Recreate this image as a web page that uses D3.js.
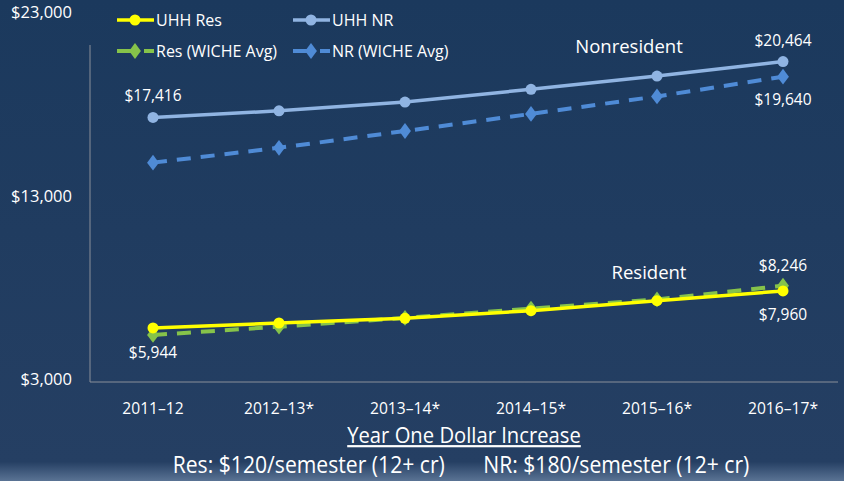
<!DOCTYPE html>
<html>
<head>
<meta charset="utf-8">
<script src="https://cdn.jsdelivr.net/npm/d3@7"></script>
<style>
  html, body { margin: 0; padding: 0; background: #1d3a5e; }
  svg { display: block; }
  text { font-family: "Open Sans", "Noto Sans", sans-serif; fill: #ffffff; }
</style>
</head>
<body>
<div id="chart"></div>
<script>
// categories and series
var years = ['2011\u201312', '2012\u201313*', '2013\u201314*', '2014\u201315*', '2015\u201316*', '2016\u201317*'];
var uhhRes   = [5944, 6216, 6473, 6887, 7432, 7960];
var uhhNR    = [17416, 17776, 18256, 18952, 19672, 20464];
var wicheRes = [5563, 6015, 6490, 7000, 7500, 8246];
var wicheNR  = [14955, 15763, 16678, 17610, 18563, 19640];
var yTicks = [3000, 13000, 23000];

var width = 844, height = 481;

var svg = d3.select('#chart').append('svg')
  .attr('width', width)
  .attr('height', height);

// background gradient
var defs = svg.append('defs');
var grad = defs.append('linearGradient')
  .attr('id', 'bg').attr('x1', 0).attr('y1', 0).attr('x2', 0).attr('y2', 1);
grad.append('stop').attr('offset', '0%').attr('stop-color', '#1b395d');
grad.append('stop').attr('offset', '96%').attr('stop-color', '#253f63');
grad.append('stop').attr('offset', '100%').attr('stop-color', '#5a7394');
svg.append('rect').attr('width', width).attr('height', height).attr('fill', 'url(#bg)');

var xScale = d3.scalePoint()
  .domain(years)
  .range([90, 846])
  .padding(0.5);

var yScale = d3.scaleLinear()
  .domain([3000, 23000])
  .range([382, 15]);

// axes lines
svg.append('line')
  .attr('x1', 90).attr('x2', 90)
  .attr('y1', yScale(23000) + 30).attr('y2', yScale(3000))
  .attr('stroke', '#8a8f99').attr('stroke-width', 1);
svg.append('line')
  .attr('x1', 90).attr('x2', 838)
  .attr('y1', yScale(3000)).attr('y2', yScale(3000))
  .attr('stroke', '#8a8f99').attr('stroke-width', 1);

// y tick labels
svg.selectAll('.ytick')
  .data(yTicks)
  .enter().append('text')
  .attr('class', 'ytick')
  .attr('x', 72)
  .attr('y', function(d) { return yScale(d); })
  .attr('dy', '0.2em')
  .attr('text-anchor', 'end')
  .style('font-size', '16.5px')
  .text(function(d) { return '$' + d3.format(',')(d); });

// x tick labels
svg.selectAll('.xtick')
  .data(years)
  .enter().append('text')
  .attr('class', 'xtick')
  .attr('transform', function(d) { return 'translate(' + xScale(d) + ',414) scale(0.92,1)'; })
  .attr('text-anchor', 'middle')
  .style('font-size', '17px')
  .text(function(d) { return d; });

var line = d3.line()
  .x(function(d, i) { return xScale(years[i]); })
  .y(function(d) { return yScale(d); });

var diamond = d3.symbol().type(d3.symbolDiamond).size(72);

function drawSeries(values, color, dashed, marker, width) {
  var g = svg.append('g');
  g.append('path')
    .datum(values)
    .attr('d', line)
    .attr('fill', 'none')
    .attr('stroke', color)
    .attr('stroke-width', width)
    .attr('stroke-dasharray', dashed ? '14,10' : null);
  if (marker === 'circle') {
    g.selectAll('circle')
      .data(values)
      .enter().append('circle')
      .attr('cx', function(d, i) { return xScale(years[i]); })
      .attr('cy', function(d) { return yScale(d); })
      .attr('r', 5.5)
      .attr('fill', color);
  } else {
    g.selectAll('path.mk')
      .data(values)
      .enter().append('path')
      .attr('class', 'mk')
      .attr('d', diamond)
      .attr('transform', function(d, i) { return 'translate(' + xScale(years[i]) + ',' + yScale(d) + ') scale(1.3,1)'; })
      .attr('fill', color);
  }
}

drawSeries(wicheNR, '#4f8bd6', true, 'diamond', 4);
drawSeries(uhhNR, '#90b4e2', false, 'circle', 3.5);
drawSeries(wicheRes, '#86c34a', true, 'diamond', 4);
drawSeries(uhhRes, '#ffff00', false, 'circle', 3.5);

// data labels
var fmt = function(v) { return '$' + d3.format(',')(v); };
var last = years.length - 1;
var labels = [
  { text: fmt(uhhNR[0]), x: xScale(years[0]), y: yScale(uhhNR[0]) - 16, size: 15.5 },
  { text: fmt(uhhNR[last]), x: xScale(years[last]), y: yScale(uhhNR[last]) - 16, size: 15.5 },
  { text: fmt(wicheNR[last]), x: xScale(years[last]), y: yScale(wicheNR[last]) + 28, size: 15.5 },
  { text: fmt(uhhRes[0]), x: xScale(years[0]), y: yScale(uhhRes[0]) + 30, size: 15.5 },
  { text: fmt(wicheRes[last]), x: xScale(years[last]), y: yScale(wicheRes[last]) - 15, size: 15.5 },
  { text: fmt(uhhRes[last]), x: xScale(years[last]), y: yScale(uhhRes[last]) + 29, size: 15.5 },
  { text: 'Nonresident', x: 629, y: 53, size: 18.5 },
  { text: 'Resident', x: 649, y: 279, size: 18.5 }
];
svg.selectAll('.dlabel')
  .data(labels)
  .enter().append('text')
  .attr('class', 'dlabel')
  .attr('x', function(d) { return d.x; })
  .attr('y', function(d) { return d.y; })
  .attr('text-anchor', 'middle')
  .style('font-size', function(d) { return d.size + 'px'; })
  .text(function(d) { return d.text; });

// legend
var legend = [
  { name: 'UHH Res', color: '#ffff00', dashed: false, marker: 'circle', x: 117, y: 20 },
  { name: 'UHH NR', color: '#90b4e2', dashed: false, marker: 'circle', x: 293, y: 20 },
  { name: 'Res (WICHE Avg)', color: '#86c34a', dashed: true, marker: 'diamond', x: 117, y: 51 },
  { name: 'NR (WICHE Avg)', color: '#4f8bd6', dashed: true, marker: 'diamond', x: 293, y: 51 }
];
var lg = svg.selectAll('.legend')
  .data(legend)
  .enter().append('g')
  .attr('class', 'legend')
  .attr('transform', function(d) { return 'translate(' + d.x + ',' + d.y + ')'; });
lg.append('line')
  .attr('x1', 0).attr('x2', 37)
  .attr('y1', 0).attr('y2', 0)
  .attr('stroke', function(d) { return d.color; })
  .attr('stroke-width', function(d) { return d.dashed ? 4 : 3.5; })
  .attr('stroke-dasharray', function(d) { return d.dashed ? '21,6,10' : null; });
lg.each(function(d) {
  var g = d3.select(this);
  if (d.marker === 'circle') {
    g.append('circle').attr('cx', 18).attr('cy', 0).attr('r', 5.5).attr('fill', d.color);
  } else {
    g.append('path').attr('d', diamond).attr('transform', 'translate(18,0) scale(1.3,1)').attr('fill', d.color);
  }
});
lg.append('text')
  .attr('x', 39)
  .attr('y', 0)
  .attr('dy', '0.35em')
  .style('font-size', '16px')
  .text(function(d) { return d.name; });

// footer
svg.append('text')
  .attr('transform', 'translate(464,443) scale(0.92,1)')
  .attr('text-anchor', 'middle')
  .style('font-size', '22px')
  .style('text-decoration', 'underline')
  .text('Year One Dollar Increase');
svg.append('text')
  .attr('transform', 'translate(461,473) scale(0.92,1)')
  .attr('text-anchor', 'middle')
  .style('font-size', '23px')
  .style('white-space', 'pre')
  .text('Res: $120/semester (12+ cr)       NR: $180/semester (12+ cr)');
</script>
</body>
</html>
